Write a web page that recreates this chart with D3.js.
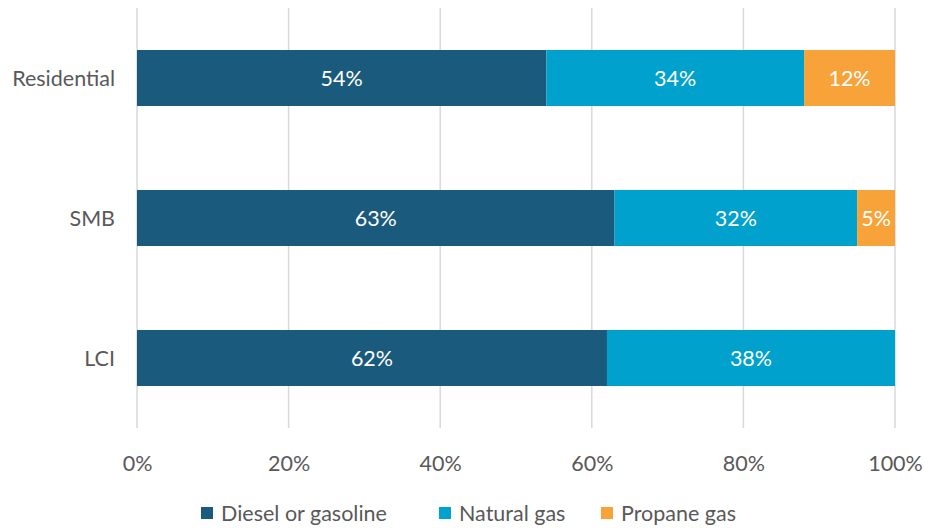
<!DOCTYPE html>
<html>
<head>
<meta charset="utf-8">
<script src="https://cdn.jsdelivr.net/npm/d3@7"></script>
<style>
  html, body { margin: 0; padding: 0; background: #fff; }
  svg { display: block; font-family: Lato, "Open Sans", sans-serif; }
</style>
</head>
<body>
<svg id="chart" width="925" height="528"></svg>
<script>
// Fuel type share by customer segment
const categories = ["Residential", "SMB", "LCI"];
const seriesNames = ["Diesel or gasoline", "Natural gas", "Propane gas"];
const diesel = [54, 63, 62];
const naturalGas = [34, 32, 38];
const propane = [12, 5, 0];
const tickValues = [0, 20, 40, 60, 80, 100];
const colors = ["#1a5a7d", "#00a1cd", "#f8a33a"];

const rows = categories.map((c, i) => ({
  category: c,
  "Diesel or gasoline": diesel[i],
  "Natural gas": naturalGas[i],
  "Propane gas": propane[i]
}));

const svg = d3.select("#chart");
const FS = 21.5;
const textColor = "#595959";

const x = d3.scaleLinear().domain([0, 100]).range([137, 895]);
const y = d3.scaleBand().domain(categories).range([8, 428]).paddingInner(0.6).paddingOuter(0.3);

// gridlines
svg.append("g").selectAll("line").data(tickValues).join("line")
  .attr("x1", d => x(d)).attr("x2", d => x(d))
  .attr("y1", 8).attr("y2", 428)
  .attr("stroke", "#d9d9d9").attr("stroke-width", 1.5);

const layers = d3.stack().keys(seriesNames)(rows);

const g = svg.append("g");
layers.forEach((layer, li) => {
  g.append("g").selectAll("rect").data(layer).join("rect")
    .attr("x", d => x(d[0]))
    .attr("width", d => x(d[1]) - x(d[0]))
    .attr("y", d => y(d.data.category))
    .attr("height", y.bandwidth())
    .attr("fill", colors[li]);
  g.append("g").selectAll("text").data(layer.filter(d => d[1] - d[0] > 0)).join("text")
    .attr("x", d => (x(d[0]) + x(d[1])) / 2)
    .attr("y", d => y(d.data.category) + y.bandwidth() / 2)
    .attr("dy", "0.35em")
    .attr("text-anchor", "middle")
    .attr("fill", "#ffffff")
    .attr("font-size", FS)
    .text(d => (d[1] - d[0]) + "%");
});

// category labels
svg.append("g").selectAll("text").data(categories).join("text")
  .attr("x", 115)
  .attr("y", d => y(d) + y.bandwidth() / 2)
  .attr("dy", "0.35em")
  .attr("text-anchor", "end")
  .attr("fill", textColor)
  .attr("font-size", FS)
  .text(d => d);

// x axis tick labels
const xAxis = d3.axisBottom(x).tickValues(tickValues).tickFormat(d => d + "%").tickSize(0).tickPadding(0);
const ax = svg.append("g").attr("transform", "translate(0,463)").call(xAxis);
ax.select(".domain").remove();
ax.selectAll("text").attr("fill", textColor).attr("font-size", FS)
  .attr("font-family", "Lato, 'Open Sans', sans-serif").attr("dy", "0.35em").attr("y", 0);

// legend
const legendX = [201, 439, 601];
const lg = svg.append("g");
seriesNames.forEach((name, i) => {
  lg.append("rect").attr("x", legendX[i]).attr("y", 507).attr("width", 12).attr("height", 12).attr("fill", colors[i]);
  lg.append("text").attr("x", legendX[i] + 20).attr("y", 513).attr("dy", "0.35em")
    .attr("fill", textColor).attr("font-size", FS).text(name);
});
</script>
</body>
</html>
